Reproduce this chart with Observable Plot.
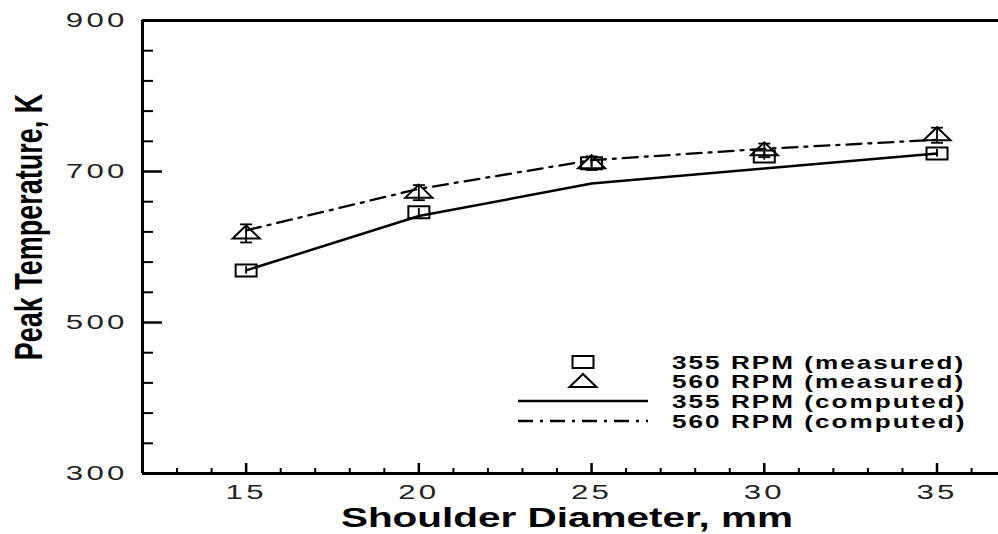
<!DOCTYPE html>
<html><head><meta charset="utf-8">
<script src="https://cdn.jsdelivr.net/npm/d3@7"></script>
<script src="https://cdn.jsdelivr.net/npm/@observablehq/plot@0.6"></script>
<style>
body{margin:0;background:#fff;}
svg{font-family:"Liberation Sans",Arial,sans-serif;}
</style>
</head><body><div id="chart"></div>
<script>
// ---- data ----
const diameters = [15, 20, 25, 30, 35];
const measured355 = [569, 646, 711, 720, 724];
const measured560 = [618, 672, 711, 728, 748];
const err355 = [5, 5, 5, 5, 5];
const err560 = [12, 10, 9, 9, 10];
const computed355 = [569, 641, 684, 704, 724];
const computed560 = [622, 677, 715, 730, 742];
const xMajorTicks = [15, 20, 25, 30, 35];
const xMinorTicks = [13, 14, 16, 17, 18, 19, 21, 22, 23, 24, 26, 27, 28, 29, 31, 32, 33, 34, 36];
const yMajorTicks = [300, 500, 700, 900];
const yMinorTicks = [340, 380, 420, 460, 540, 580, 620, 660, 740, 780, 820, 860];
const legendLabels = ["355 RPM (measured)", "560 RPM (measured)", "355 RPM (computed)", "560 RPM (computed)"];
const xLabel = "Shoulder Diameter, mm";
const yLabel = "Peak Temperature, K";

const rows = (vals, errs) => diameters.map((d, i) => ({d, v: vals[i], lo: vals[i] - errs[i], hi: vals[i] + errs[i]}));
const m355 = rows(measured355, err355);
const m560 = rows(measured560, err560);
const c355 = diameters.map((d, i) => ({d, v: computed355[i]}));
const c560 = diameters.map((d, i) => ({d, v: computed560[i]}));

const wideSquare = {draw(ctx) { ctx.moveTo(-10.5, -6); ctx.lineTo(10.5, -6); ctx.lineTo(10.5, 6); ctx.lineTo(-10.5, 6); ctx.closePath(); }};
const wideTriangle = {draw(ctx) { ctx.moveTo(0, -8); ctx.lineTo(13.5, 5); ctx.lineTo(-13.5, 5); ctx.closePath(); }};
const capSym = {draw(ctx) { ctx.moveTo(-6, 0); ctx.lineTo(6, 0); }};
const DASH = "15,7,3,7";

const chart = Plot.plot({
  width: 998, height: 534,
  marginLeft: 142, marginRight: 0, marginTop: 20, marginBottom: 61,
  x: {domain: [12, 36.78], label: null},
  y: {domain: [300, 900], label: null},
  style: {fontFamily: '"Liberation Sans", Arial, sans-serif', color: "#000", background: "#fff"},
  marks: [
    // axis frame lines
    Plot.ruleX([12], {stroke: "#000", strokeWidth: 3}),
    Plot.ruleY([300], {stroke: "#000", strokeWidth: 3}),
    Plot.ruleY([900], {stroke: "#000", strokeWidth: 3}),
    // ticks (inward)
    Plot.axisY({ticks: yMajorTicks, tickSize: -20, strokeWidth: 2.5, tickFormat: () => ""}),
    Plot.axisY({ticks: yMinorTicks, tickSize: -11, strokeWidth: 2, tickFormat: () => ""}),
    Plot.axisX({ticks: xMajorTicks, tickSize: -10, strokeWidth: 2.5, tickFormat: () => ""}),
    Plot.axisX({ticks: xMinorTicks, tickSize: -5, strokeWidth: 2, tickFormat: () => ""}),
    // tick labels
    Plot.axisY({ticks: yMajorTicks, tickSize: 0, tickPadding: 15, fontSize: 19.5, className: "ticklab"}),
    Plot.axisX({ticks: xMajorTicks, tickSize: 0, tickPadding: 12, fontSize: 19.5, className: "ticklab"}),
    // computed lines
    Plot.line(c355, {x: "d", y: "v", stroke: "#000", strokeWidth: 2.5}),
    Plot.line(c560, {x: "d", y: "v", stroke: "#000", strokeWidth: 2.3, strokeDasharray: DASH}),
    // error bars
    Plot.ruleX(m355, {x: "d", y1: "lo", y2: "hi", stroke: "#000", strokeWidth: 1.8}),
    Plot.ruleX(m560, {x: "d", y1: "lo", y2: "hi", stroke: "#000", strokeWidth: 1.8}),
    Plot.dot(m560, {x: "d", y: "lo", symbol: capSym, stroke: "#000", strokeWidth: 1.8, fill: "none"}),
    Plot.dot(m560, {x: "d", y: "hi", symbol: capSym, stroke: "#000", strokeWidth: 1.8, fill: "none"}),
    // measured markers
    Plot.dot(m355, {x: "d", y: "v", symbol: wideSquare, stroke: "#000", strokeWidth: 2, fill: "none"}),
    Plot.dot(m560, {x: "d", y: "v", symbol: wideTriangle, stroke: "#000", strokeWidth: 2, fill: "none"})
  ]
});

const svg = d3.select(chart);
// stretch tick label text horizontally
svg.selectAll("g.ticklab text, [class*='ticklab'] text").each(function() {
  const t = d3.select(this);
  t.attr("letter-spacing", "2px").attr("fill", "#222");
  const tr = t.attr("transform");
  if (tr) t.attr("transform", tr + " scale(1.6,1)");
  else {
    const x = +t.attr("x") || 0;
    t.attr("x", null).attr("transform", `translate(${x},0) scale(1.6,1)`);
  }
});

// axis titles
svg.append("text")
  .attr("transform", "translate(567,527) scale(1.5,1)")
  .attr("text-anchor", "middle").attr("font-weight", "bold").attr("font-size", 27)
  .attr("fill", "#000").text(xLabel);
svg.append("text")
  .attr("transform", "translate(42,227) rotate(-90) scale(1,1.45)")
  .attr("text-anchor", "middle").attr("font-weight", "bold").attr("font-size", 27)
  .attr("fill", "#000").text(yLabel);

// legend
const lg = svg.append("g");
const rowsY = [362, 381, 401, 421];
legendLabels.forEach((lab, i) => {
  lg.append("text")
    .attr("transform", `translate(672,${rowsY[i] + 6.5}) scale(1.45,1)`)
    .attr("text-anchor", "start")
    .attr("font-weight", "bold").attr("font-size", 18).attr("letter-spacing", "1.4px")
    .attr("fill", "#000").text(lab);
});
lg.append("path").attr("d", d3.symbol(wideSquare)()).attr("transform", `translate(583,${rowsY[0]})`)
  .attr("fill", "none").attr("stroke", "#000").attr("stroke-width", 2);
lg.append("path").attr("d", d3.symbol(wideTriangle)()).attr("transform", `translate(583,${rowsY[1] + 1})`)
  .attr("fill", "none").attr("stroke", "#000").attr("stroke-width", 2);
lg.append("line").attr("x1", 518).attr("x2", 648).attr("y1", rowsY[2]).attr("y2", rowsY[2])
  .attr("stroke", "#000").attr("stroke-width", 2.5);
lg.append("line").attr("x1", 518).attr("x2", 648).attr("y1", rowsY[3]).attr("y2", rowsY[3])
  .attr("stroke", "#000").attr("stroke-width", 2.3).attr("stroke-dasharray", DASH);

document.getElementById("chart").appendChild(chart);
</script>
</body></html>
